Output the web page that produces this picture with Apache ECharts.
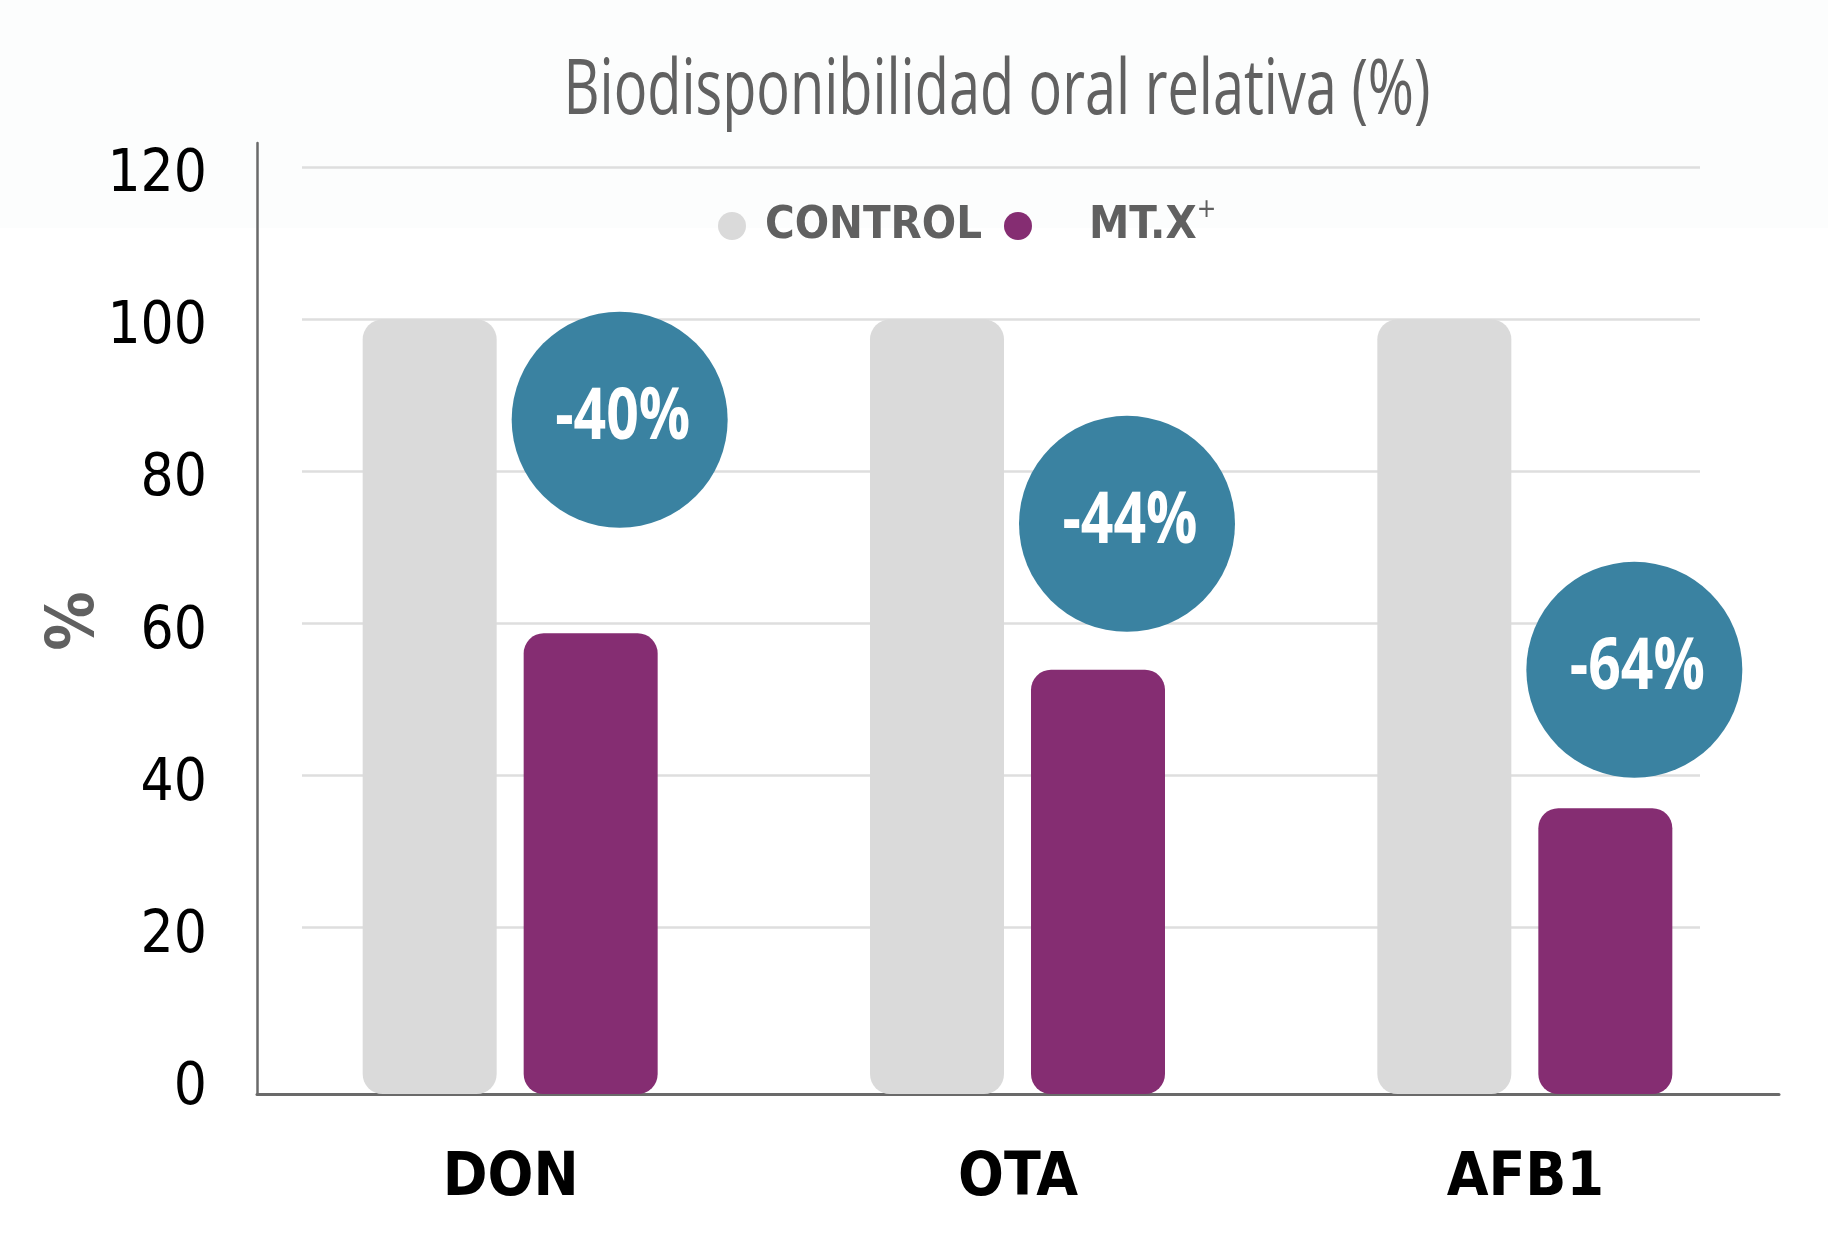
<!DOCTYPE html>
<html>
<head>
<meta charset="utf-8">
<script src="https://cdn.jsdelivr.net/npm/echarts@6/dist/echarts.min.js"></script>
<style>
html,body{margin:0;padding:0;background:#ffffff;}
#c{width:1828px;height:1248px;}
</style>
</head>
<body>
<div id="c"></div>
<script>
const categories = ['DON', 'OTA', 'AFB1'];
const controlValues = [100, 100, 100];
const mtxValues = [58.7, 53.9, 35.7];
const reductionLabels = ['-40%', '-44%', '-64%'];
const bubbleLevels = [86.8, 73.1, 53.9];
const yTicks = [0, 20, 40, 60, 80, 100, 120];
const seriesNames = ['CONTROL', 'MT.X'];
const titleText = 'Biodisponibilidad oral relativa (%)';
const yAxisTitle = '%';

const NARROW = "'DejaVu Sans Condensed', 'DejaVu Sans', sans-serif";
const BAR_W = 134;

const measureCtx = document.createElement('canvas').getContext('2d');
function textWidth(text, font) { measureCtx.font = font; return measureCtx.measureText(text).width; }

const TITLE_FONT = "normal 77px 'Open Sans', 'DejaVu Sans', sans-serif";
const titleScale = 867 / textWidth(titleText, TITLE_FONT);
const BUBBLE_FONT = "bold 71px 'Open Sans', 'DejaVu Sans', sans-serif";
const bubbleScale = 135 / textWidth('-40%', BUBBLE_FONT);

function barRenderer(offset, color) {
  return function (params, api) {
    const top = api.coord([api.value(0), api.value(1)]);
    const cs = params.coordSys;
    const bottom = cs.y + cs.height;
    return {
      type: 'rect',
      shape: { x: top[0] + offset - BAR_W / 2, y: top[1], width: BAR_W, height: bottom - top[1], r: 20 },
      style: { fill: color }
    };
  };
}

function bubbleRenderer(params, api) {
  const p = api.coord([api.value(0), api.value(1)]);
  const cx = p[0] + 109;
  return {
    type: 'group',
    children: [{
      type: 'circle',
      shape: { cx: cx, cy: p[1], r: 108 },
      style: { fill: '#3a82a1' }
    }, {
      type: 'text',
      x: cx + 3, y: p[1] - 1,
      scaleX: bubbleScale,
      style: {
        text: reductionLabels[params.dataIndex],
        font: BUBBLE_FONT, fill: '#ffffff',
        align: 'center', verticalAlign: 'middle',
        textAlign: 'center', textVerticalAlign: 'middle'
      }
    }]
  };
}

const chart = echarts.init(document.getElementById('c'), null, { renderer: 'canvas' });
chart.setOption({
  backgroundColor: '#ffffff',
  animation: false,
  graphic: [{
    type: 'rect', z: -10, silent: true,
    shape: { x: 0, y: 0, width: 1828, height: 228 },
    style: { fill: '#fcfdfd' }
  }, {
    type: 'text', z: 10, silent: true,
    x: 997, y: 92,
    scaleX: titleScale,
    style: {
      text: titleText, font: TITLE_FONT, fill: '#616161',
      align: 'center', verticalAlign: 'middle',
      textAlign: 'center', textVerticalAlign: 'middle'
    }
  }, {
    type: 'text', z: 10, silent: true,
    x: 76, y: 621,
    rotation: Math.PI / 2,
    style: {
      text: yAxisTitle, font: "bold 66px 'DejaVu Sans Condensed', 'DejaVu Sans', sans-serif", fill: '#606060',
      align: 'center', verticalAlign: 'middle',
      textAlign: 'center', textVerticalAlign: 'middle'
    }
  }],
  legend: {
    data: seriesNames,
    left: 713,
    top: 192,
    icon: 'circle',
    itemWidth: 56,
    itemHeight: 28,
    itemGap: 22,
    formatter: function (name) {
      return name === 'MT.X' ? '{pad|}MT.X{sup|+}' : name;
    },
    textStyle: {
      fontFamily: NARROW, fontSize: 45, fontWeight: 'bold', color: '#606060', lineHeight: 58,
      rich: {
        pad: { width: 38 },
        sup: { fontFamily: NARROW, fontSize: 26, fontWeight: 'normal', color: '#606060', verticalAlign: 'top', lineHeight: 30 }
      }
    }
  },
  grid: [
    { left: 257, right: 49, top: 143, bottom: 154 },
    { left: 302, right: 128, top: 167.3, bottom: 168.5 }
  ],
  xAxis: [{
    gridIndex: 0,
    type: 'category',
    data: categories,
    axisLine: { onZero: false, lineStyle: { color: '#6a6a6a', width: 3 } },
    axisTick: { show: false },
    axisLabel: { fontFamily: NARROW, fontSize: 60, fontWeight: 'bold', color: '#000000', margin: 55 }
  }, {
    gridIndex: 1, type: 'value', show: false, min: 0, max: 1
  }],
  yAxis: [{
    gridIndex: 0,
    type: 'value',
    min: -1.9,
    max: 123.2,
    axisLine: { show: true, lineStyle: { color: '#6a6a6a', width: 2.5 } },
    axisTick: { show: false },
    splitLine: { show: false },
    axisLabel: {
      customValues: yTicks,
      fontFamily: NARROW, fontSize: 58, color: '#000000', margin: 50,
      verticalAlign: 'top', lineHeight: 18,
      formatter: function (v) { return yTicks.indexOf(v) >= 0 ? String(v) : ''; }
    }
  }, {
    gridIndex: 1,
    type: 'value',
    min: 0, max: 120, interval: 20,
    axisLine: { show: false },
    axisTick: { show: false },
    axisLabel: { show: false },
    splitLine: { show: true, showMinLine: false, lineStyle: { color: '#dedede', width: 2.7 } }
  }],
  series: [{
    name: 'CONTROL',
    type: 'custom',
    xAxisIndex: 0, yAxisIndex: 0,
    itemStyle: { color: '#dadada' },
    encode: { x: 0, y: 1 },
    data: controlValues.map((v, i) => [i, v]),
    renderItem: barRenderer(-81, '#dadada'),
    z: 3
  }, {
    name: 'MT.X',
    type: 'custom',
    xAxisIndex: 0, yAxisIndex: 0,
    itemStyle: { color: '#852d72' },
    encode: { x: 0, y: 1 },
    data: mtxValues.map((v, i) => [i, v]),
    renderItem: barRenderer(80, '#852d72'),
    z: 3
  }, {
    name: 'reduction',
    type: 'custom',
    xAxisIndex: 0, yAxisIndex: 0,
    encode: { x: 0, y: 1 },
    data: bubbleLevels.map((v, i) => [i, v]),
    renderItem: bubbleRenderer,
    z: 5
  }]
});
</script>
</body>
</html>
